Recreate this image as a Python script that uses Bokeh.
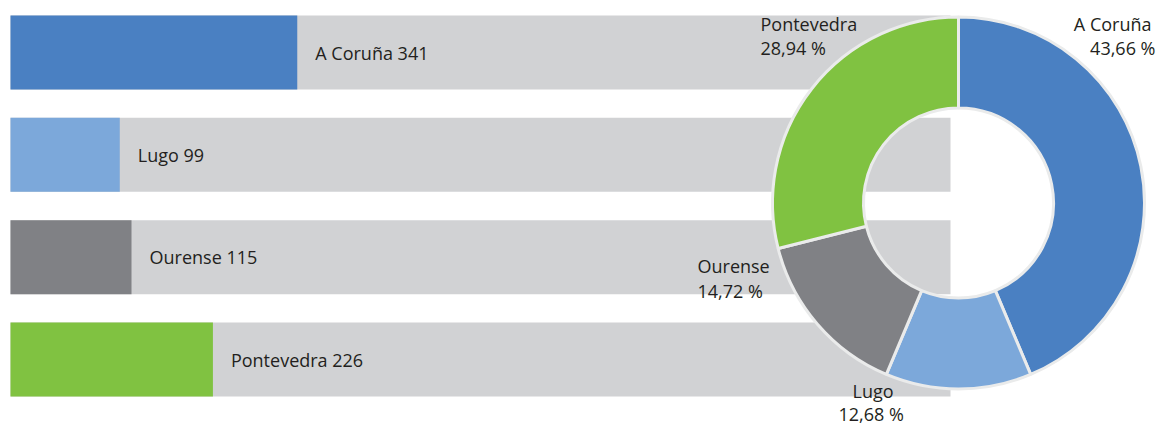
from bokeh.plotting import figure
from bokeh.models import Range1d, ColumnDataSource
from bokeh.core.properties import value
from bokeh.embed import file_html
from bokeh.resources import INLINE

# ---- data ----
provinces = ["A Coruña", "Lugo", "Ourense", "Pontevedra"]
counts = [341, 99, 115, 226]
shares = [43.66, 12.68, 14.72, 28.94]
colors = ["#4a80c2", "#7ca8da", "#808185", "#80c241"]

FONT = value("Open Sans")
TXT = "#231f20"
TRACK = "#d1d2d4"

W, H = 1159, 426
p = figure(width=W, height=H, output_backend="svg", toolbar_location=None,
           x_range=Range1d(0, W), y_range=Range1d(-H, 0),
           x_axis_location=None, y_axis_location=None, min_border=0)
p.grid.visible = False
p.outline_line_color = None
p.background_fill_color = "white"
p.border_fill_color = "white"

# value scale for the bars (screen x=10 is the bar baseline)
k = 0.7334          # px per unit
base = -50.0        # value at bar baseline
p.extra_x_ranges = {"val": Range1d(base - 10 / k, base + (W - 10) / k)}

# row layout (screen y centres)
row_y = [-52, -154.3, -256.7, -359]
src = ColumnDataSource(dict(
    y=row_y, count=counts, color=colors,
    label=[f"{n} {c}" for n, c in zip(provinces, counts)],
))

# grey tracks
p.hbar(y="y", left=10, right=950, height=74, source=src,
       fill_color=TRACK, line_color=None)
# value bars
p.hbar(y="y", left=base, right="count", height=74, source=src,
       fill_color="color", line_color=None, x_range_name="val")
# bar labels
p.text(x="count", y="y", text="label", source=src, x_range_name="val",
       x_offset=18, text_baseline="middle", text_align="left",
       text_font=FONT, text_font_size="18px", text_color=TXT)

# ---- donut ----
cum = 0.0
starts, ends = [], []
for s in shares:
    starts.append(90 - 360 * cum / 100)
    cum += s
    ends.append(90 - 360 * cum / 100)
dsrc = ColumnDataSource(dict(start=starts, end=ends, color=colors))
p.annular_wedge(x=958, y=-202.5, inner_radius=95, outer_radius=186,
                start_angle="start", end_angle="end", start_angle_units="deg",
                end_angle_units="deg", direction="clock", source=dsrc,
                fill_color="color", line_color="#eaebeb", line_width=3)

# donut labels (positions per province)
pos = {
    "A Coruña":   dict(x1=1151, x2=1155, y1=-23, y2=-47, align="right"),
    "Lugo":       dict(x1=852, x2=838, y1=-390, y2=-413, align="left"),
    "Ourense":    dict(x1=697, x2=697, y1=-265, y2=-290, align="left"),
    "Pontevedra": dict(x1=760, x2=760, y1=-23, y2=-47, align="left"),
}
lx, ly, lt, la = [], [], [], []
for name, s in zip(provinces, shares):
    q = pos[name]
    lx += [q["x1"], q["x2"]]
    ly += [q["y1"], q["y2"]]
    lt += [name, f"{s:.2f}".replace(".", ",") + " %"]
    la += [q["align"], q["align"]]
lsrc = ColumnDataSource(dict(x=lx, y=ly, text=lt, align=la))
p.text(x="x", y="y", text="text", source=lsrc, text_align="align",
       text_baseline="alphabetic", text_font=FONT, text_font_size="18px",
       text_color=TXT)

open("out.html", "w").write(file_html(p, INLINE))
